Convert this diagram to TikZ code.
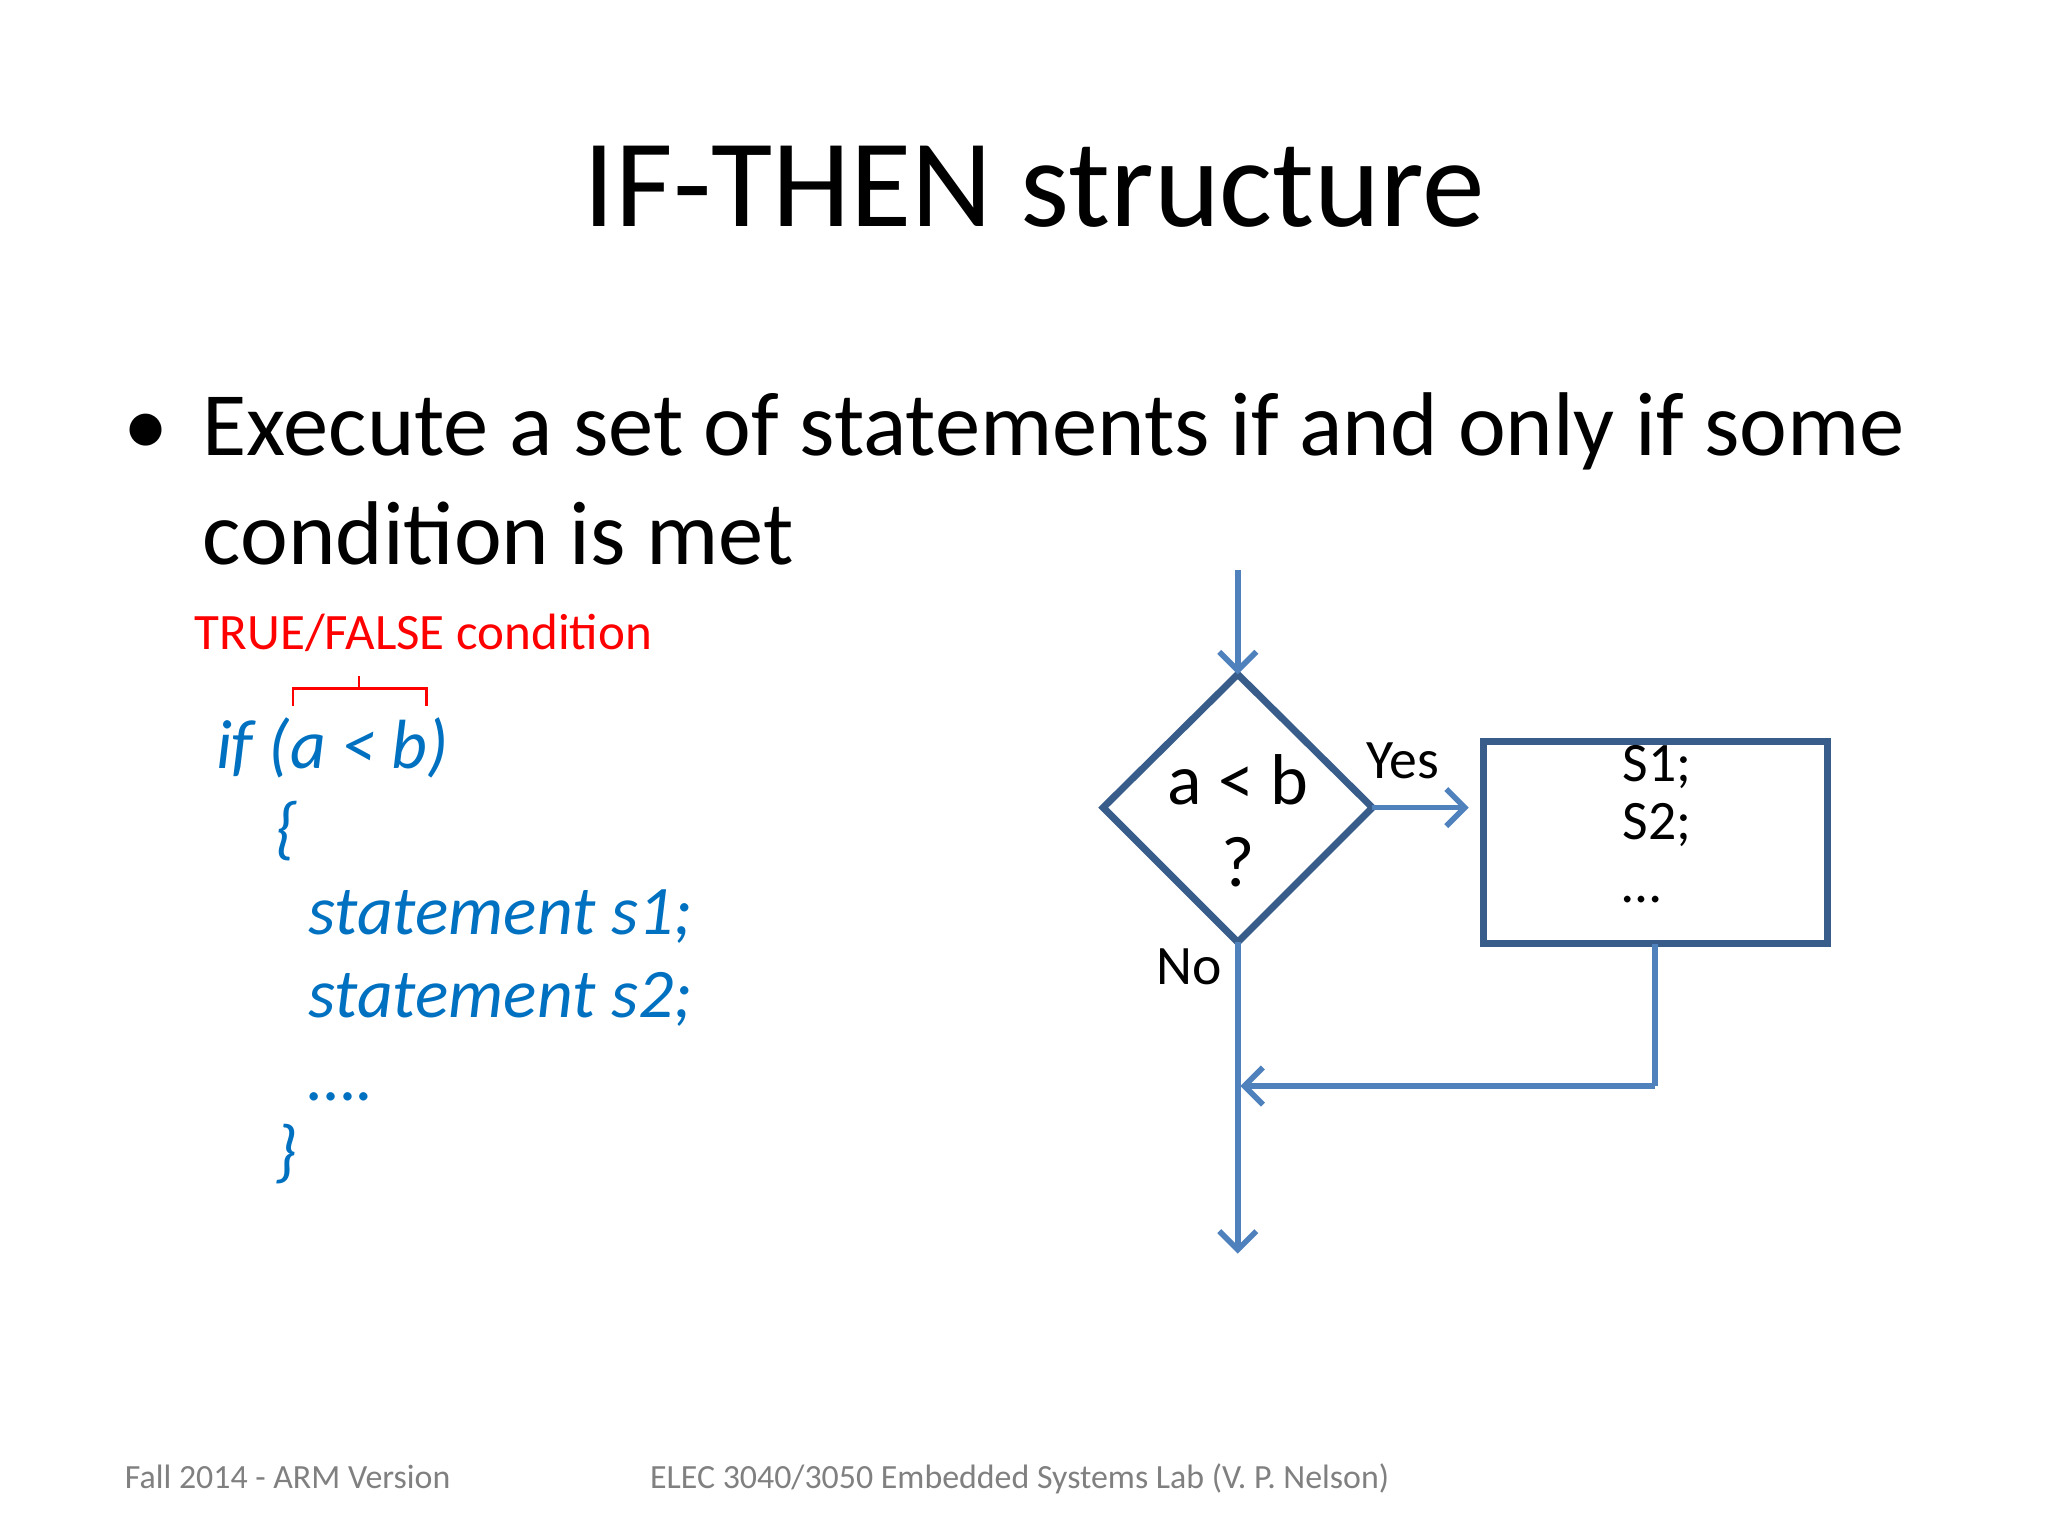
\documentclass[tikz,border=0pt]{standalone}
\usepackage{fontspec}
\setmainfont{Carlito}
\usetikzlibrary{arrows.meta}
\definecolor{codeblue}{HTML}{0070C0}
\definecolor{flow}{HTML}{4F81BD}
\definecolor{flowdark}{HTML}{385D8A}
\begin{document}
\begin{tikzpicture}[x=0.01cm,y=-0.01cm,
  txt/.style={inner sep=0,anchor=base west},
  code/.style={txt,text=codeblue,font=\fontsize{15}{17}\selectfont\itshape},
  conn/.style={draw=flow,line width=1.2pt,-{Straight Barb[length=4pt,width=8pt]}},
  plain/.style={draw=flow,line width=1.2pt}]
\useasboundingbox (0,0) rectangle (1552,1164);
\node[txt,anchor=base] (title) at (784,172) {\fontsize{27}{32}\selectfont IF-THEN structure};
\node[txt] (bul) at (93,345) {\fontsize{19.5}{24}\selectfont •};
\node[txt] (l1) at (153,345) {\fontsize{19.5}{24}\selectfont Execute a set of statements if and only if some};
\node[txt] (l2) at (153,428) {\fontsize{19.5}{24}\selectfont condition is met};
\node[txt,text=red] (cond) at (147,492) {\fontsize{11}{14}\selectfont TRUE/FALSE condition};
\draw[red,line width=0.6pt] (222,535) -- (222,522) -- (323,522) -- (323,535);
\draw[red,line width=0.6pt] (272,522) -- (272,512);
\node[code] (c1) at (163,582) {if (a < b)};
\node[code] (c2) at (208,645) {\{};
\node[code] (c3) at (233,708) {statement s1;};
\node[code] (c4) at (233,771) {statement s2;};
\node[code] (c5) at (233,834) {….};
\node[code] (c6) at (208,890) {\}};
% flowchart
\coordinate (top) at (938,432);
\draw[flowdark,line width=1.5pt] (836,612) coordinate (dl) -- (938,511) coordinate (dt) -- (1040,612) coordinate (dr) -- (938,714) coordinate (db) -- cycle;
\node[txt,anchor=base] (q1) at (938,610) {\fontsize{15.5}{18}\selectfont a < b};
\node[txt,anchor=base] (q2) at (938,672) {\fontsize{15.5}{18}\selectfont ?};
\node[draw=flowdark,line width=1.5pt,minimum width=261*0.01cm,minimum height=153*0.01cm,inner sep=0] (box) at (1254.5,638.5) {};
\node[txt] (s1) at (1229,592) {\fontsize{12}{14}\selectfont S1;};
\node[txt] (s2) at (1229,636) {\fontsize{12}{14}\selectfont S2;};
\node[txt] (s3) at (1229,684) {\fontsize{12}{14}\selectfont …};
\node[txt] (yes) at (1035,590) {\fontsize{12}{14}\selectfont Yes};
\node[txt] (no) at (876,746) {\fontsize{12}{14}\selectfont No};
\coordinate (yesend) at (1113,612);
\coordinate (bb) at (1254,715);
\coordinate (corner) at (1254,823);
\coordinate (join) at (940,823);
\coordinate (bottom) at (938,950);
\draw[conn] (top) -- (dt);
\draw[conn] (dr) -- (yesend);
\draw[plain] (bb) -- (corner);
\draw[conn] (corner) -- (join);
\draw[conn] (db) -- (bottom);
% footer
\node[txt,text=gray] (f1) at (94,1128) {\fontsize{7.3}{9}\selectfont Fall 2014 - ARM Version};
\node[txt,text=gray] (f2) at (492,1128) {\fontsize{7.3}{9}\selectfont ELEC 3040/3050 Embedded Systems Lab (V. P. Nelson)};
\end{tikzpicture}
\end{document}
